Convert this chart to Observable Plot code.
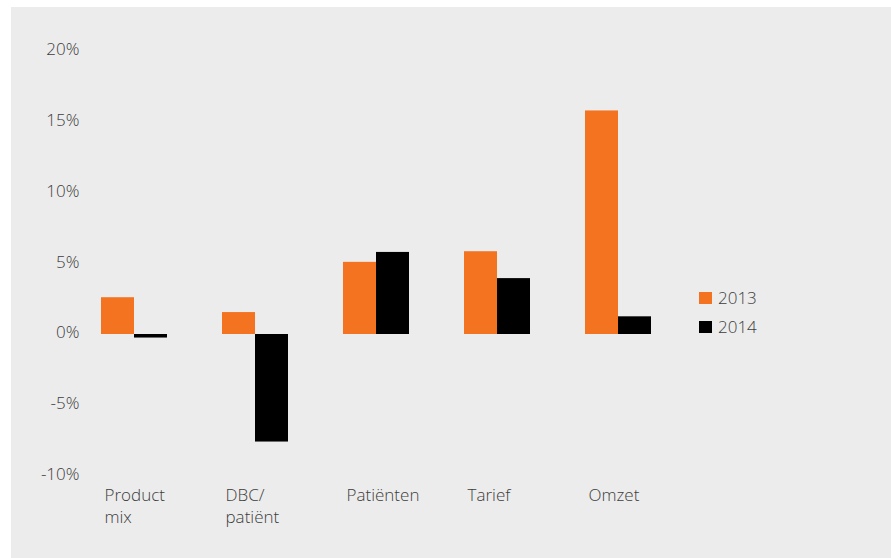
<!DOCTYPE html>
<html><head><meta charset="utf-8">
<script src="https://cdn.jsdelivr.net/npm/d3@7"></script>
<script src="https://cdn.jsdelivr.net/npm/@observablehq/plot@0.6"></script>
<style>
body{margin:0;background:#fff;}
#wrap{position:relative;width:891px;height:558px;overflow:hidden;font-family:"Open Sans",sans-serif;font-weight:300;}
#panel{position:absolute;left:11px;top:7px;right:0;bottom:0;background:#ececec;}
#chart{position:absolute;left:0;top:0;}
.leg{position:absolute;left:699px;height:17px;line-height:17px;font-size:17px;color:#3c3c3c;white-space:nowrap;}
.leg span.sw{display:inline-block;width:13px;height:12px;margin-right:6px;vertical-align:top;margin-top:3px;}
</style></head>
<body>
<div id="wrap"><div id="panel"></div><div id="chart"></div></div>
<script>
const categories = ["Product\nmix", "DBC/\npatiënt", "Patiënten", "Tarief", "Omzet"];
const years = ["2013", "2014"];
const values2013 = [2.6, 1.55, 5.1, 5.85, 15.8];
const values2014 = [-0.25, -7.6, 5.8, 3.95, 1.25];
const yTicks = [-10, -5, 0, 5, 10, 15, 20];
const colors = ["#f47321", "#000000"];

const data = [];
categories.forEach((c, i) => {
  data.push({cat: c, year: years[0], value: values2013[i]});
  data.push({cat: c, year: years[1], value: values2014[i]});
});

const chart = Plot.plot({
  width: 891, height: 558,
  marginTop: 51, marginBottom: 82.5, marginLeft: 101, marginRight: 240,
  style: {background: "transparent", fontFamily: "Open Sans, sans-serif", fontWeight: 300, fontSize: "17px", color: "#3c3c3c"},
  fx: {domain: categories, paddingInner: 55/121, paddingOuter: 0, round: false, label: null},
  x: {domain: years, padding: 0, round: false, axis: null},
  y: {domain: [-10, 20], axis: null},
  color: {domain: years, range: colors},
  marks: [
    Plot.barY(data, {fx: "cat", x: "year", y: "value", fill: "year"}),
    Plot.axisY({ticks: yTicks, tickSize: 0, tickPadding: 22, dy: -1.5, tickFormat: d => d + "%", label: null}),
    Plot.axisFx({anchor: "bottom", tickSize: 0, tickPadding: 9, textAnchor: "start", dx: -30, lineHeight: 1.3, label: null})
  ]
});
document.getElementById("chart").appendChild(chart);

const wrap = document.getElementById("wrap");
years.forEach((y, i) => {
  const d = document.createElement("div");
  d.className = "leg";
  d.style.top = (289 + i * 29) + "px";
  const sw = document.createElement("span");
  sw.className = "sw";
  sw.style.background = colors[i];
  d.appendChild(sw);
  d.appendChild(document.createTextNode(y));
  wrap.appendChild(d);
});
</script>
</body></html>
